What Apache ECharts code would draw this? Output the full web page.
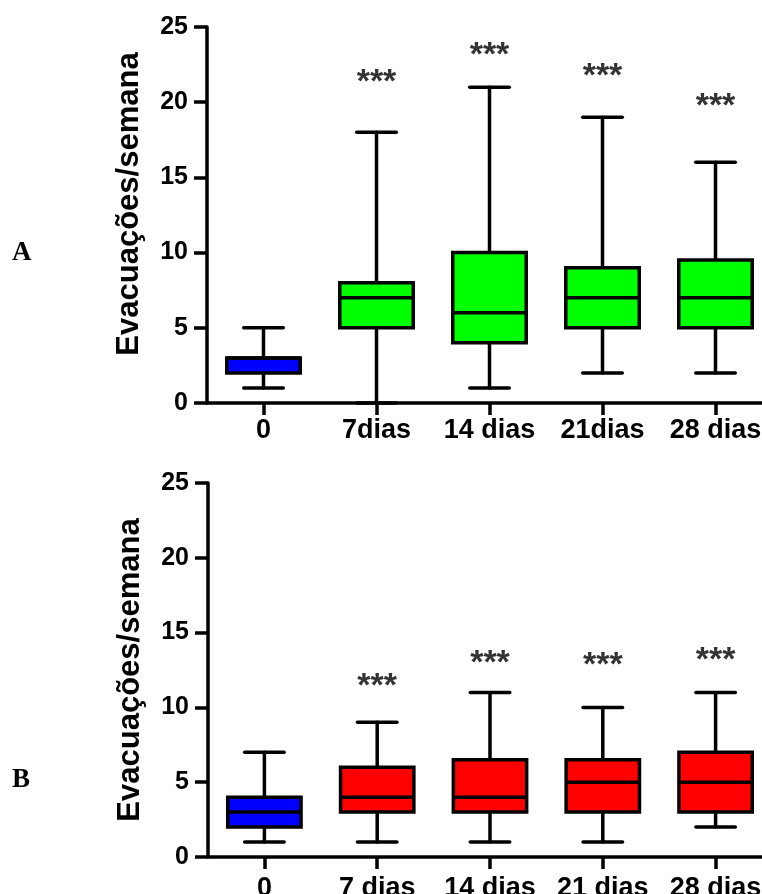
<!DOCTYPE html>
<html>
<head>
<meta charset="utf-8">
<script src="https://cdn.jsdelivr.net/npm/echarts@6/dist/echarts.min.js"></script>
<style>
  html, body { margin: 0; padding: 0; background: #fff; }
  #chart { width: 762px; height: 894px; }
</style>
</head>
<body>
<div id="chart"></div>
<script>
// panel A
const catsA = ['0', '7dias', '14 dias', '21dias', '28 dias'];
// [min, q1, median, q3, max]
const boxA = [
    [1, 2, 3, 3, 5],
    [0, 5, 7, 8, 18],
    [1, 4, 6, 10, 21],
    [2, 5, 7, 9, 19],
    [2, 5, 7, 9.5, 16]
];
const colorsA = ['#0000ff', '#00ff00', '#00ff00', '#00ff00', '#00ff00'];
const starsA = [null, 21.3, 23.1, 21.7, 19.7];

// panel B
const catsB = ['0', '7 dias', '14 dias', '21 dias', '28 dias'];
const boxB = [
    [1, 2, 3, 4, 7],
    [1, 3, 4, 6, 9],
    [1, 3, 4, 6.5, 11],
    [1, 3, 5, 6.5, 10],
    [2, 3, 5, 7, 11]
];
const colorsB = ['#0000ff', '#ff0000', '#ff0000', '#ff0000', '#ff0000'];
const starsB = [null, 11.4, 12.9, 12.8, 13.1];

const yTicks = [0, 5, 10, 15, 20, 25];
const font = 'Liberation Sans, Arial, sans-serif';

function makeRender(colors){
    return function(params, api){
        const x = api.value(0);
        const lo = api.coord([x, api.value(1)]);
        const q1 = api.coord([x, api.value(2)]);
        const med = api.coord([x, api.value(3)]);
        const q3 = api.coord([x, api.value(4)]);
        const hi = api.coord([x, api.value(5)]);
        const band = api.size([1, 0])[0];
        const bw = band * 0.65;
        const cw = band * 0.35;
        const cx = lo[0];
        const line = {stroke: '#000', lineWidth: 3.5, lineCap: 'round'};
        return {
            type: 'group',
            children: [
                {type: 'line', shape: {x1: cx, y1: hi[1], x2: cx, y2: q3[1]}, style: line},
                {type: 'line', shape: {x1: cx, y1: q1[1], x2: cx, y2: lo[1]}, style: line},
                {type: 'line', shape: {x1: cx - cw / 2, y1: hi[1], x2: cx + cw / 2, y2: hi[1]}, style: line},
                {type: 'line', shape: {x1: cx - cw / 2, y1: lo[1], x2: cx + cw / 2, y2: lo[1]}, style: line},
                {type: 'rect', shape: {x: cx - bw / 2, y: q3[1], width: bw, height: q1[1] - q3[1]},
                    style: {fill: colors[params.dataIndex], stroke: '#000', lineWidth: 3.5}},
                {type: 'line', shape: {x1: cx - bw / 2, y1: med[1], x2: cx + bw / 2, y2: med[1]}, style: {stroke: '#000', lineWidth: 3.5}}
            ]
        };
    };
}

function yAxis(grid, namePad){
    return {
        type: 'value',
        gridIndex: grid,
        min: yTicks[0],
        max: yTicks[yTicks.length - 1],
        interval: 5,
        name: 'Evacuações/semana',
        nameLocation: 'middle',
        nameGap: 62,
        nameTextStyle: {fontSize: 31, fontWeight: 'bold', color: '#000', fontFamily: font, padding: namePad},
        axisLine: {show: true, lineStyle: {color: '#000', width: 3.5}},
        axisTick: {show: true, length: 13, lineStyle: {color: '#000', width: 3.5}},
        axisLabel: {fontSize: 25, fontWeight: 'bold', color: '#000', fontFamily: font, margin: 19},
        splitLine: {show: false}
    };
}

function xAxis(grid, cats, margin){
    return {
        type: 'category',
        gridIndex: grid,
        data: cats,
        axisLine: {show: true, lineStyle: {color: '#000', width: 3.5}},
        axisTick: {show: true, alignWithLabel: true, length: 12, lineStyle: {color: '#000', width: 3.5}},
        axisLabel: {fontSize: 27, fontWeight: 'bold', color: '#000', fontFamily: font, margin: margin, interval: 0}
    };
}

function starSeries(idx, stars){
    return {
        type: 'scatter',
        xAxisIndex: idx,
        yAxisIndex: idx,
        symbolSize: 0,
        silent: true,
        data: stars.map((v, i) => v == null ? null : [i, v]).filter(d => d),
        label: {
            show: true, position: 'inside', formatter: '***',
            fontSize: 34, fontWeight: 'bold', color: '#000', fontFamily: font
        }
    };
}

const myChart = echarts.init(document.getElementById('chart'), null, {renderer: 'canvas'});
const option = {
    animation: false,
    backgroundColor: '#fff',
    grid: [
        {left: 207, top: 27, height: 376, width: 565, outerBoundsMode: 'none', containLabel: false},
        {left: 208, top: 483, height: 374, width: 564, outerBoundsMode: 'none', containLabel: false}
    ],
    xAxis: [xAxis(0, catsA, 14), xAxis(1, catsB, 18)],
    yAxis: [yAxis(0, [0, 0, 0, 22]), yAxis(1, 0)],
    graphic: [
        {type: 'text', left: 12, top: 240, style: {text: 'A', font: 'bold 27px "Liberation Serif", serif', fill: '#000'}},
        {type: 'text', left: 12, top: 767, style: {text: 'B', font: 'bold 27px "Liberation Serif", serif', fill: '#000'}}
    ],
    series: [
        {
            type: 'custom',
            xAxisIndex: 0,
            yAxisIndex: 0,
            renderItem: makeRender(colorsA),
            encode: {x: 0, y: [1, 2, 3, 4, 5]},
            data: boxA.map((b, i) => [i].concat(b))
        },
        {
            type: 'custom',
            xAxisIndex: 1,
            yAxisIndex: 1,
            renderItem: makeRender(colorsB),
            encode: {x: 0, y: [1, 2, 3, 4, 5]},
            data: boxB.map((b, i) => [i].concat(b))
        },
        starSeries(0, starsA),
        starSeries(1, starsB)
    ]
};
myChart.setOption(option);

window.onresize = () => {
    myChart.resize()
}
</script>
</body>
</html>
